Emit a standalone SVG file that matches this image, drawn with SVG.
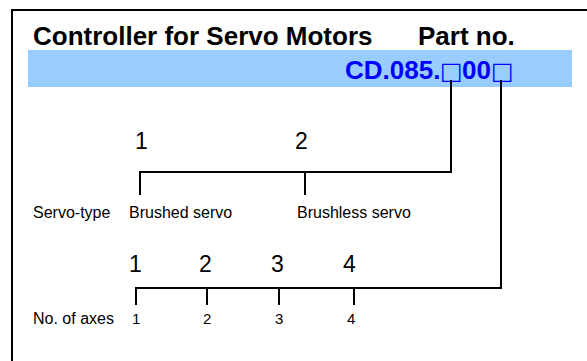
<svg xmlns="http://www.w3.org/2000/svg" width="587" height="361" viewBox="0 0 587 361">
  <style>
    .title { font-family: "Liberation Sans", Arial, sans-serif; font-weight: bold; font-size: 26px; fill: #000; }
    .pn { font-family: "Liberation Sans", Arial, sans-serif; font-weight: bold; font-size: 26px; fill: #0000ff; }
    .box { font-family: "DejaVu Sans", sans-serif; font-weight: normal; font-size: 24px; fill: #0000ff; }
    .big { font-family: "Liberation Sans", Arial, sans-serif; font-size: 23px; fill: #000; }
    .lbl { font-family: "Liberation Sans", Arial, sans-serif; font-size: 16px; fill: #000; }
    .num { font-family: "Liberation Sans", Arial, sans-serif; font-size: 15px; fill: #000; }
    .ln { fill: none; stroke: #000; stroke-width: 2; }
  </style>
  <rect x="0" y="0" width="587" height="361" fill="#fff"/>
  <rect id="frame" x="12" y="10" width="620" height="400" fill="none" stroke="#000" stroke-width="2"/>
  <g id="header">
    <text class="title" x="33" y="45">Controller for Servo Motors</text>
    <text class="title" x="418" y="45">Part no.</text>
  </g>
  <g id="partnumber">
    <rect x="28" y="50" width="544" height="37" fill="#99ccff"/>
    <text class="pn" x="345" y="79">CD.085.<tspan class="box" x="440">□</tspan><tspan x="462">00</tspan><tspan class="box" x="491">□</tspan></text>
  </g>
  <g id="connectors">
    <path class="ln" d="M451 80 V172 H140 V195"/>
    <path class="ln" d="M305 172 V195"/>
    <path class="ln" d="M501 80 V288 H136 V305"/>
    <path class="ln" d="M207 288 V305 M279 288 V305 M354 288 V305"/>
  </g>
  <g id="servo-type">
    <text class="big" x="135" y="149">1</text>
    <text class="big" x="295" y="149">2</text>
    <text class="lbl" x="33" y="218">Servo-type</text>
    <text class="lbl" x="129" y="218">Brushed servo</text>
    <text class="lbl" x="297" y="218">Brushless servo</text>
  </g>
  <g id="axes">
    <text class="big" x="129" y="272">1</text>
    <text class="big" x="199" y="272">2</text>
    <text class="big" x="271" y="272">3</text>
    <text class="big" x="343" y="272">4</text>
    <text class="lbl" x="33" y="324">No. of axes</text>
    <text class="num" x="132" y="324">1</text>
    <text class="num" x="203" y="324">2</text>
    <text class="num" x="275" y="324">3</text>
    <text class="num" x="347" y="324">4</text>
  </g>
</svg>
